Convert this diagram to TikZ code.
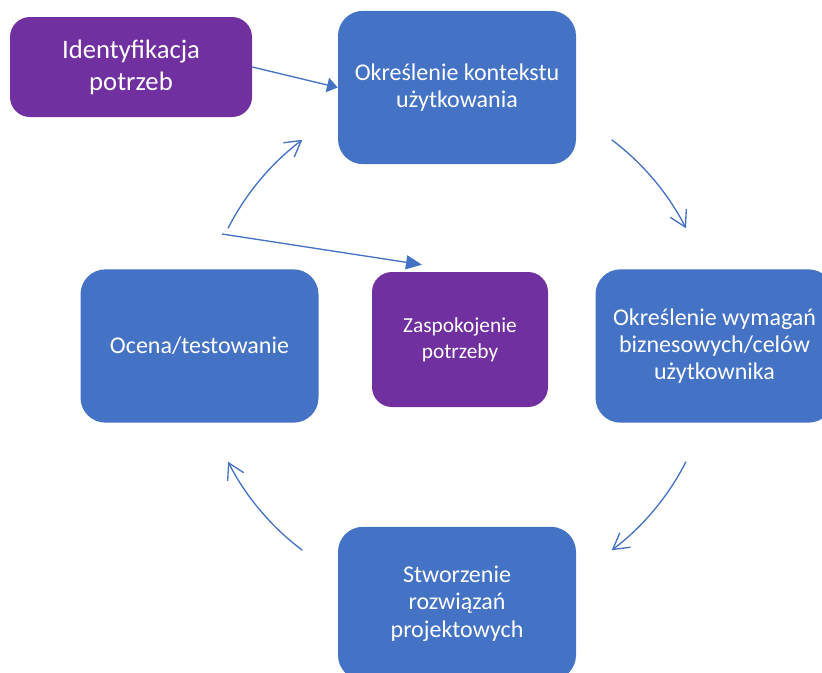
\documentclass[tikz,border=0pt]{standalone}
\usepackage{fontspec}
\setmainfont{Carlito}
\usetikzlibrary{arrows.meta}
\definecolor{boxblue}{HTML}{4472C4}
\definecolor{boxpurple}{HTML}{7030A0}
\begin{document}
\begin{tikzpicture}[x=0.75pt,y=-0.75pt,
  box/.style={rectangle, rounded corners=18.75pt, fill=boxblue, text=white, align=center, inner sep=0pt,
    minimum width=178.5pt, minimum height=115pt, font=\fontsize{18}{20.5}\selectfont},
  pbox/.style={box, fill=boxpurple, rounded corners=15pt},
  flow/.style={draw=boxblue, line width=1pt, -{Straight Barb[length=11.7pt,width=13.5pt]}},
  link/.style={draw=boxblue, line width=1pt, -{Triangle[length=12pt,width=10.5pt]}},
  linkshort/.style={draw=boxblue, line width=1pt, -{Triangle[length=8pt,width=11pt]}}]
\useasboundingbox (0,0) rectangle (822,672);

\node[pbox, minimum width=181.5pt, minimum height=75pt, font=\fontsize{20}{24}\selectfont] (idp) at (131,67) {Identyfikacja\\potrzeb};
\node[box] (ctx) at (457,87.5) {Określenie kontekstu\\użytkowania};
\node[box] (req) at (714.5,346) {Określenie wymagań\\biznesowych/celów\\użytkownika};
\node[box] (des) at (457,603.5) {Stworzenie\\rozwiązań\\projektowych};
\node[box] (eval) at (199.5,346) {Ocena/testowanie};
\node[pbox, minimum width=132pt, minimum height=101.25pt, font=\fontsize{16}{19.5}\selectfont] (sat) at (460,339.5) {Zaspokojenie\\potrzeby};

\coordinate (c) at (457,345);
\coordinate (a1) at ([shift={(-53:257)}]c);
\coordinate (a2) at ([shift={(27:257)}]c);
\coordinate (a3) at ([shift={(127:257)}]c);
\coordinate (a4) at ([shift={(-153:257)}]c);
\coordinate (s6) at (222,234);

\draw[flow] (a1) arc[start angle=-53, end angle=-27, radius=257];
\draw[flow] (a2) arc[start angle=27, end angle=53, radius=257];
\draw[flow] (a3) arc[start angle=127, end angle=153, radius=257];
\draw[flow] (a4) arc[start angle=-153, end angle=-127, radius=257];

\draw[linkshort] (idp.east) -- (ctx.west);
\draw[link] (s6) -- ([shift={(-38,-7)}]sat.north);
\end{tikzpicture}
\end{document}
